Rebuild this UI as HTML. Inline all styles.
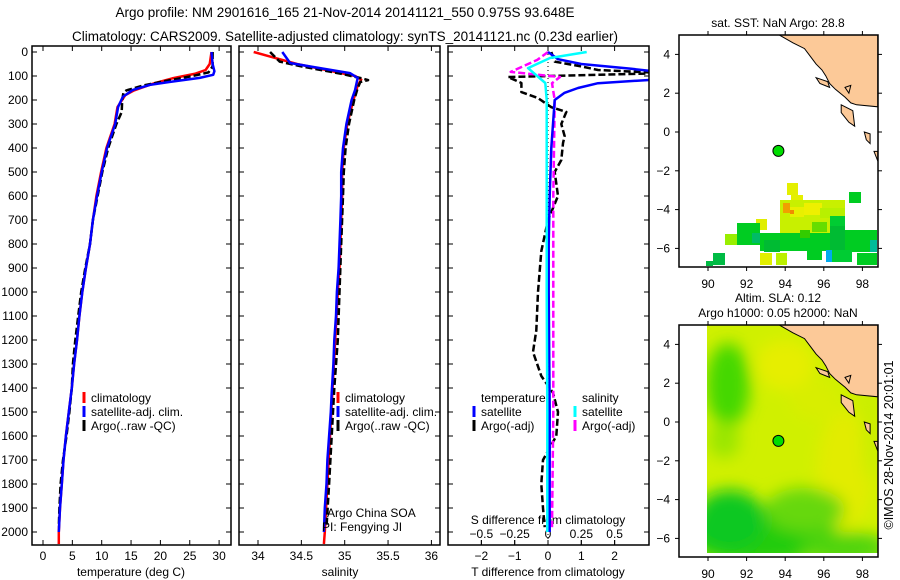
<!DOCTYPE html>
<html><head><meta charset="utf-8"><style>
html,body{margin:0;padding:0;background:#fff;}
svg{display:block;font-family:"Liberation Sans",sans-serif;}
text{font-size:12px;fill:#000;}
</style></head><body>
<svg id="c" width="900" height="580" viewBox="0 0 900 580" xmlns="http://www.w3.org/2000/svg">
<defs>
<clipPath id="cp1"><rect x="32" y="46" width="199" height="499"/></clipPath>
<clipPath id="cp2"><rect x="239" y="46" width="201" height="499"/></clipPath>
<clipPath id="cp3"><rect x="448" y="46" width="201" height="499"/></clipPath>
<clipPath id="cpm1"><rect x="679" y="35" width="199" height="232"/></clipPath>
<clipPath id="cpm2"><rect x="679" y="325" width="199" height="232"/></clipPath>
<clipPath id="cpsla"><rect x="707" y="325" width="171" height="228"/></clipPath>
<filter id="blur" x="-50%" y="-50%" width="200%" height="200%"><feGaussianBlur stdDeviation="8"/></filter>
</defs>
<text x="345" y="17" text-anchor="middle" style="font-size:13.5px">Argo profile: NM 2901616_165 21-Nov-2014 20141121_550 0.975S 93.648E</text>
<text x="345" y="41" text-anchor="middle" style="font-size:13.5px">Climatology: CARS2009. Satellite-adjusted climatology: synTS_20141121.nc (0.23d earlier)</text>
<g id="g1"></g>
<g id="g2"></g>
<g id="g3"></g>
<g id="m1"></g>
<g id="m2"></g>
<text transform="translate(893,445) rotate(-90)" text-anchor="middle" style="font-size:12.5px">©IMOS 28-Nov-2014 20:01:01</text>
</svg>
<script>
// ---- data ----
const depthTSat = [0,50,80,95,108,125,137,158,187,229,300,400,500,600,700,800,900,1000,1100,1200,1300,1400,1500,1600,1700,1800,1900,2000];
const tSat      = [28.7,28.9,29.2,29.0,26.7,21.5,18.2,15.3,13.6,12.8,12.3,10.9,10.0,9.2,8.5,8.0,7.3,6.7,6.2,5.8,5.3,4.9,4.4,3.9,3.5,3.2,2.9,2.7];
const depthTClim = [0,50,75,90,110,130,160,180,229,300,400,500,600,700,800,900,1000,1100,1200,1300,1400,1500,1600,1700,1800,1900,2000,2050];
const tClim      = [28.7,28.4,27.7,26.0,22.0,19.0,15.5,14.0,12.7,12.2,10.8,9.9,9.1,8.5,8.0,7.3,6.7,6.2,5.8,5.3,4.9,4.4,3.9,3.5,3.2,2.9,2.7,2.7];
const depthTArgo = [0,60,85,100,120,140,160,170,200,250,300,400,500,600,700,800,900,1000,1100,1200,1300,1400,1500,1600,1700,1800,1900,1980];
const tArgo      = [28.9,28.9,28.2,25.5,21.0,17.0,14.2,13.7,13.5,13.4,12.5,11.1,10.1,9.3,8.5,8.0,7.2,6.5,6.0,5.5,5.1,4.9,4.5,4.0,3.4,3.0,2.8,2.7];

const depthSSat = [0,46,62,88,108,158,200,300,400,500,600,700,800,900,1000,1100,1200,1300,1420,1500,1600,1700,1800,1900,2000];
const sSat      = [34.28,34.37,34.63,35.06,35.15,35.12,35.08,35.02,34.98,34.96,34.96,34.95,34.94,34.93,34.91,34.90,34.88,34.87,34.85,34.84,34.82,34.80,34.79,34.77,34.76];
const depthSClim = [0,20,50,80,100,115,140,200,300,400,500,600,700,800,900,1000,1200,1400,1600,1800,2000,2050];
const sClim      = [33.95,34.15,34.45,34.85,35.12,35.19,35.15,35.10,35.03,34.99,34.97,34.97,34.96,34.95,34.94,34.92,34.89,34.86,34.83,34.80,34.77,34.76];
const depthSArgo = [0,40,60,90,110,117,125,150,200,300,400,500,600,800,1000,1200,1400,1600,1800,1980];
const sArgo      = [34.14,34.25,34.5,34.95,35.2,35.27,35.18,35.15,35.11,35.05,35.01,34.99,34.98,34.96,34.94,34.92,34.88,34.85,34.82,34.79];

const depthDT = [0,30,50,70,85,100,115,130,150,170,200,300,400,600,800,1000,1500,2000];
const dTSat   = [0,0.3,1.0,2.5,3.5,4.5,3.2,1.5,0.9,0.5,0.2,0.15,0.1,0.05,0.02,0.02,0.05,0.05];
const depthDTArgo = [0,40,60,75,88,104,129,167,192,230,250,300,350,380,450,500,600,700,830,1000,1160,1250,1350,1420,1500,1600,1700,1800,1900,1980];
const dTArgo      = [0.1,0.2,1.0,1.5,3.5,-1.2,-0.8,-0.8,-0.3,0.1,0.55,0.4,0.5,0.45,0.4,0.2,0.3,0.0,-0.2,-0.3,-0.35,-0.45,-0.2,0.15,0.3,0.25,-0.15,-0.2,-0.15,-0.1];
const depthDS = [0,25,67,129,200,600,1000,1500,2000];
const dSSat   = [0.29,0.015,-0.15,-0.02,-0.01,-0.01,-0.01,-0.005,-0.005];
const depthDSArgo = [0,33,83,104,130,200,600,1000,1500,1980];
const dSArgo      = [0,-0.08,-0.28,0.09,0.03,0.05,0.04,0.04,0.04,0.03];

const depthTicks = [0,100,200,300,400,500,600,700,800,900,1000,1100,1200,1300,1400,1500,1600,1700,1800,1900,2000];
const tTicks = [0,5,10,15,20,25,30];
const sTicks = [34,34.5,35,35.5,36];
const sTickLabels = ["34","34.5","35","35.5","36"];
const dtTicks = [-2,-1,0,1,2];
const dsTicks = [-0.5,-0.25,0,0.25,0.5];
const dsTickLabels = ["−0.5","−0.25","0","0.25","0.5"];
const lonTicks = [90,92,94,96,98];
const latTicks = [4,2,0,-2,-4,-6];
const floatLon = 93.648, floatLat = -0.975;

// ---- scales ----
const yD = d => 52 + d*0.24;
const xT = t => 43 + t*5.87;
const xS = s => 258 + (s-34)*86.7;
const xDT = v => 548 + v*33.3;
const xDS = v => 548 + v*133.3;
const lonX = l => 708 + (l-90)*19.3;
const latY1 = a => 132 - a*19.4;
const latY2 = a => 422 - a*19.4;

const NS = "http://www.w3.org/2000/svg";
function mk(parent, tag, attrs, txt){
  const e = document.createElementNS(NS, tag);
  for (const k in attrs) e.setAttribute(k, attrs[k]);
  if (txt !== undefined) e.textContent = txt;
  parent.appendChild(e);
  return e;
}
function line(parent, xs, ys, xf, color, w, dash, clip, name){
  const pts = xs.map((v,i)=> xf(v).toFixed(1)+","+yD(ys[i]).toFixed(1)).join(" ");
  const a = {points:pts, fill:"none", stroke:color, "stroke-width":w, "clip-path":"url(#"+clip+")", "stroke-linejoin":"round"};
  if (dash) a["stroke-dasharray"] = dash;
  const e = mk(parent, "polyline", a);
  
  
  return e;
}
function box(parent, x, y, w, h, name){
  const e = mk(parent, "rect", {x:x, y:y, width:w, height:h, fill:"none", stroke:"#000", "stroke-width":1.5});
  
  
}
function depthTickMarks(parent, x0, x1){
  depthTicks.forEach(d=>{
    mk(parent,"line",{x1:x0,x2:x0+5,y1:yD(d),y2:yD(d),stroke:"#000"});
    mk(parent,"line",{x1:x1-5,x2:x1,y1:yD(d),y2:yD(d),stroke:"#000"});
  });
}
function xTickMarks(parent, vals, f){
  vals.forEach(v=>{
    mk(parent,"line",{x1:f(v),x2:f(v),y1:46,y2:51,stroke:"#000"});
    mk(parent,"line",{x1:f(v),x2:f(v),y1:540,y2:545,stroke:"#000"});
  });
}
function legendRow(parent, x, y, color, label, name){
  const m = mk(parent,"line",{x1:x,x2:x,y1:y-10,y2:y+1,stroke:color,"stroke-width":3});
  
  
  const t = mk(parent,"text",{x:x+7,y:y},label);
  
  
}

// ---- panel 1: temperature ----
const g1 = document.getElementById("g1");
depthTicks.forEach(d=>{
  const t = mk(g1,"text",{x:28,y:yD(d)+4,"text-anchor":"end"},String(d));
  
  
});
depthTickMarks(g1,32,231);
xTickMarks(g1,tTicks,xT);
tTicks.forEach(v=>{
  const t = mk(g1,"text",{x:xT(v),y:560,"text-anchor":"middle"},String(v));
  
  
});
mk(g1,"text",{x:131,y:576,"text-anchor":"middle"},"temperature (deg C)");
line(g1,tClim,depthTClim,xT,"#f00",2.5,null,"cp1","temperature-climatology-line");
line(g1,tArgo,depthTArgo,xT,"#000",2.5,"7 3","cp1","temperature-argo-line");
line(g1,tSat,depthTSat,xT,"#00f",2.5,null,"cp1","temperature-satellite-line");
box(g1,32,46,199,499,"temperature-plot-frame");
legendRow(g1,84,402,"#f00","climatology","legend-climatology");
legendRow(g1,84,416,"#00f","satellite-adj. clim.","legend-satellite-adj");
legendRow(g1,84,430,"#000","Argo(..raw -QC)","legend-argo");

// ---- panel 2: salinity ----
const g2 = document.getElementById("g2");
depthTickMarks(g2,239,440);
xTickMarks(g2,sTicks,xS);
sTicks.forEach((v,i)=>{
  const t = mk(g2,"text",{x:xS(v),y:560,"text-anchor":"middle"},sTickLabels[i]);
  
  
});
mk(g2,"text",{x:340,y:576,"text-anchor":"middle"},"salinity");
line(g2,sClim,depthSClim,xS,"#f00",2.5,null,"cp2","salinity-climatology-line");
line(g2,sArgo,depthSArgo,xS,"#000",2.5,"7 3","cp2","salinity-argo-line");
line(g2,sSat,depthSSat,xS,"#00f",2.5,null,"cp2","salinity-satellite-line");
box(g2,239,46,201,499,"salinity-plot-frame");
legendRow(g2,338,402,"#f00","climatology","legend-climatology-2");
legendRow(g2,338,416,"#00f","satellite-adj. clim.","legend-satellite-adj-2");
legendRow(g2,338,430,"#000","Argo(..raw -QC)","legend-argo-2");
mk(g2,"text",{x:327,y:517},"Argo China SOA");
mk(g2,"text",{x:322,y:531},"PI: Fengying JI");

// ---- panel 3: differences ----
const g3 = document.getElementById("g3");
depthTickMarks(g3,448,649);
xTickMarks(g3,dtTicks,xDT);
dsTicks.forEach(v=>mk(g3,"line",{x1:xDS(v),x2:xDS(v),y1:540,y2:545,stroke:"#000"}));
dtTicks.forEach(v=>{
  const t = mk(g3,"text",{x:xDT(v),y:560,"text-anchor":"middle"},String(v).replace("-","−"));
  
  
});
dsTicks.forEach((v,i)=>{
  const t = mk(g3,"text",{x:xDS(v),y:538,"text-anchor":"middle"},dsTickLabels[i]);
  
  
});
mk(g3,"text",{x:548,y:524,"text-anchor":"middle"},"S difference from climatology");
mk(g3,"text",{x:548,y:576,"text-anchor":"middle"},"T difference from climatology");
mk(g3,"line",{x1:xDT(0),x2:xDT(0),y1:46,y2:545,stroke:"#000","stroke-dasharray":"1 3"});
line(g3,dTArgo,depthDTArgo,xDT,"#000",2.5,"7 3","cp3","t-diff-argo-line");
line(g3,dSArgo,depthDSArgo,xDS,"#f0f",2.5,"7 3","cp3","s-diff-argo-line");
line(g3,dTSat,depthDT,xDT,"#00f",2.5,null,"cp3","t-diff-satellite-line");
line(g3,dSSat,depthDS,xDS,"#0ff",2.5,null,"cp3","s-diff-satellite-line");
box(g3,448,46,201,499,"difference-plot-frame");
mk(g3,"text",{x:481,y:402},"temperature");
mk(g3,"text",{x:582,y:402},"salinity");
legendRow(g3,474,416,"#00f","satellite","legend-t-satellite");
legendRow(g3,474,430,"#000","Argo(-adj)","legend-t-argo");
legendRow(g3,575,416,"#0ff","satellite","legend-s-satellite");
legendRow(g3,575,430,"#f0f","Argo(-adj)","legend-s-argo");

// ---- maps ----
function land(g, latY){
  const pts = [[93.6,5.05],[94.4,4.6],[95.0,4.3],[95.3,3.9],[95.6,3.5],[95.9,3.2],[96.1,2.9],[96.3,2.5],[96.6,2.2],[97.1,1.8],[97.4,1.5],[97.7,1.4],[98.8,1.3],[98.8,5.05]];
  const p = mk(g,"polygon",{points:pts.map(q=>lonX(q[0]).toFixed(1)+","+latY(q[1]).toFixed(1)).join(" "),fill:"#fcc998",stroke:"#000","stroke-width":1});
  
  
  const isl = [[[95.6,2.8],[96.2,2.6],[96.3,2.3],[95.8,2.5]],[[97.1,2.3],[97.4,2.4],[97.3,2.0]],[[96.9,1.4],[97.5,1.1],[97.6,0.3],[97.3,0.5],[96.9,1.0]],[[98.1,0.0],[98.4,-0.1],[98.4,-0.6],[98.2,-0.4]],[[98.6,-1.0],[98.8,-1.0],[98.8,-1.5]]];
  isl.forEach(s=>{
    const e = mk(g,"polygon",{points:s.map(q=>lonX(q[0]).toFixed(1)+","+latY(q[1]).toFixed(1)).join(" "),fill:"#fcc998",stroke:"#000","stroke-width":1});
    
    
  });
}
function mapAxes(g, top, latY){
  lonTicks.forEach(l=>{
    mk(g,"line",{x1:lonX(l),x2:lonX(l),y1:top-4,y2:top,stroke:"#000"});
    mk(g,"line",{x1:lonX(l),x2:lonX(l),y1:top+232,y2:top+236,stroke:"#000"});
    const t = mk(g,"text",{x:lonX(l),y:top+253,"text-anchor":"middle"},String(l));
    
    
  });
  latTicks.forEach(a=>{
    mk(g,"line",{x1:675,x2:679,y1:latY(a),y2:latY(a),stroke:"#000"});
    mk(g,"line",{x1:878,x2:882,y1:latY(a),y2:latY(a),stroke:"#000"});
    const t = mk(g,"text",{x:670,y:latY(a)+4,"text-anchor":"end"},String(a).replace("-","−"));
    
    
  });
  const f = mk(g,"rect",{x:679,y:top,width:199,height:232,fill:"none",stroke:"#000","stroke-width":1.5});
  
  
}
function floatMarker(g, latY){
  const c = mk(g,"circle",{cx:lonX(floatLon),cy:latY(floatLat),r:5.5,fill:"#00dd00",stroke:"#000","stroke-width":1});
  
  
}

// SST map
const m1 = document.getElementById("m1");
mk(m1,"text",{x:778,y:27,"text-anchor":"middle"},"sat. SST: NaN Argo: 28.8");
const gm1 = mk(m1,"g",{"clip-path":"url(#cpm1)"});
const cells = [
 [787,183,11,12,"#e4ef00"],[791,195,12,12,"#e4ef00"],[780,200,65,33,"#c8f000"],[790,207,14,10,"#e8f000"],[804,203,18,12,"#eef000"],
 [783,203,7,10,"#f0a000"],[790,210,4,4,"#f08c00"],[820,208,25,10,"#b8f000"],[830,216,15,14,"#00cc33"],[812,222,15,10,"#66dd00"],
 [849,192,12,11,"#00cc22"],[756,219,11,11,"#e0ee00"],[737,223,23,22,"#00cc22"],[725,234,12,11,"#99ee00"],[760,233,70,18,"#00cc22"],
 [830,226,15,26,"#00bb33"],[845,230,32,22,"#00cc22"],[870,240,7,12,"#00bb99"],[764,240,16,12,"#00bb33"],[760,253,12,12,"#e2ef00"],
 [776,253,11,12,"#bbf000"],[807,250,15,10,"#00cc22"],[826,250,6,12,"#00aaee"],[832,250,20,12,"#00cc33"],[857,253,20,12,"#00cc22"],
 [713,253,12,12,"#00bb44"],[706,261,7,5,"#00bb44"],[752,233,8,10,"#00bb66"],[800,230,10,8,"#33cc00"]
];
cells.forEach(c=>{
  const r = mk(gm1,"rect",{x:c[0],y:c[1],width:c[2],height:c[3],fill:c[4]});
  
  
});
land(gm1,latY1);
floatMarker(gm1,latY1);
mapAxes(m1,35,latY1);

// SLA map
const m2 = document.getElementById("m2");
mk(m2,"text",{x:778,y:302,"text-anchor":"middle"},"Altim. SLA: 0.12");
mk(m2,"text",{x:778,y:317,"text-anchor":"middle"},"Argo h1000: 0.05 h2000: NaN");
const gm2 = mk(m2,"g",{"clip-path":"url(#cpm2)"});
const gs = mk(gm2,"g",{"clip-path":"url(#cpsla)"});
mk(gs,"rect",{x:707,y:325,width:171,height:232,fill:"#d0f000"});
const gb = mk(gs,"g",{filter:"url(#blur)"});
[[785,365,30,25,"#e6ee00"],[845,470,28,60,"#e2ec00"],[728,385,22,42,"#44d800"],[724,440,16,18,"#9ae600"],
 [760,535,75,30,"#22cc10"],[845,548,45,16,"#50d410"],[805,510,40,22,"#66d810"],[870,420,8,60,"#c8ee00"],
 [730,520,35,30,"#10c820"],[815,400,25,20,"#d8ee00"]].forEach(b=>{
  const e = mk(gb,"ellipse",{cx:b[0],cy:b[1],rx:b[2],ry:b[3],fill:b[4]});
  
  
});
land(gm2,latY2);
floatMarker(gm2,latY2);
mapAxes(m2,325,latY2);
</script>
</body></html>
